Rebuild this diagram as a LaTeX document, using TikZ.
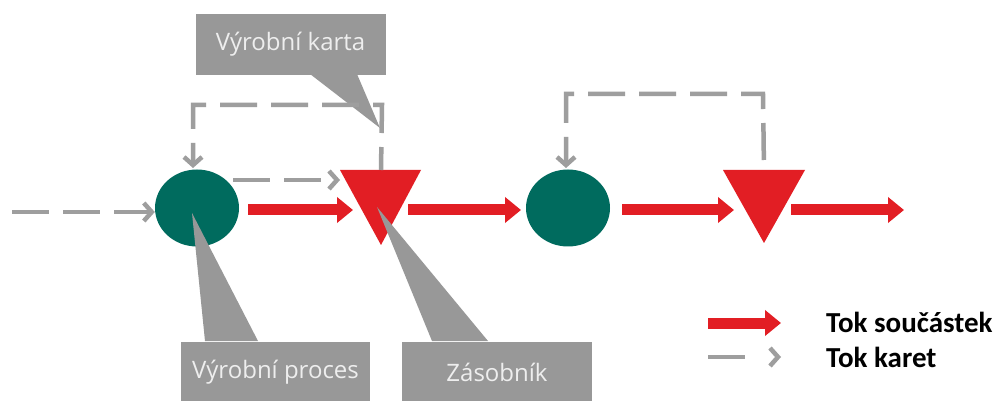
\documentclass[tikz,border=0pt]{standalone}
\usepackage{fontspec}
\newfontfamily\callfont{Open Sans}
\newfontfamily\legfont{Carlito}
\usetikzlibrary{arrows.meta,shapes.geometric}
\definecolor{teal1}{RGB}{0,107,94}
\definecolor{red1}{RGB}{226,30,36}
\definecolor{gray1}{RGB}{158,158,158}
\definecolor{gray2}{RGB}{152,152,152}
\definecolor{calltext}{RGB}{238,238,238}
\begin{document}
\begin{tikzpicture}[x=1pt,y=-1pt,
  parts/.style={red1, line width=11pt, -{Triangle[length=16pt,width=25pt]}},
  cards/.style={gray1, line width=4.5pt, dash pattern=on 37pt off 14pt,
     -{Straight Barb[length=8pt,width=18pt]}},
  callout/.style={fill=gray2, text=calltext, font=\callfont\fontsize{24}{28}\selectfont,
     inner sep=0pt, minimum width=190pt, minimum height=61pt},
  pointer/.style={fill=gray2},
  proc/.style={ellipse, fill=teal1, minimum width=84pt, minimum height=77pt, inner sep=0pt},
  stock/.style={fill=red1},
  legtext/.style={font=\legfont\bfseries\fontsize{29}{32}\selectfont, anchor=west, inner sep=0pt}]
\useasboundingbox (0,0) rectangle (997,401);
\fill[white] (0,0) rectangle (997,401);

% upper callout (behind the card loop)
\node[callout] (vk) at (290.5,44.5) {Výrobní karta};
\fill[pointer] (310,74) -- (380,128) -- (357,74) -- cycle;

% process circles
\node[proc] (p1) at (197,208) {};
\node[proc] (p2) at (568,208) {};

% stock triangles
\coordinate (s1) at (381,170);
\coordinate (s2) at (764,170);
\fill[stock] (340,170) -- (421,170) -- (381,245) -- cycle;
\fill[stock] (723,170) -- (805,170) -- (764,243) -- cycle;

% part flow
\coordinate (a1s) at (248,210); \coordinate (a1e) at (353,210);
\coordinate (a2s) at (408,210); \coordinate (a2e) at (521,210);
\coordinate (a3s) at (622,210); \coordinate (a3e) at (734,210);
\coordinate (a4s) at (791,210); \coordinate (a4e) at (904,210);
\draw[parts] (a1s) -- (a1e);
\draw[parts] (a2s) -- (a2e);
\draw[parts] (a3s) -- (a3e);
\draw[parts] (a4s) -- (a4e);

% card flow
\coordinate (in) at (12,212);
\draw[cards] (in) -- (p1.west |- in);
\coordinate (c1s) at (233,180);
\coordinate (c1e) at (340,180);
\draw[cards] (c1s) -- (c1e);
\draw[cards, dash phase=14pt] (s1) -- (382,105) -- (193,105) -- (193,168);
\draw[cards, dash phase=41pt] (s2) -- (763,94) -- (566,94) -- (566,168);

% lower callouts
\fill[pointer] (205,341) -- (192,213) -- (258,341) -- cycle;
\node[callout, minimum width=189pt] (vp) at (275.5,372) {Výrobní proces};
\fill[pointer] (432,341) -- (377,207) -- (488,341) -- cycle;
\node[callout] (zs) at (497,372) {Zásobník};

% legend
\coordinate (l1s) at (708,323); \coordinate (l1e) at (781,323);
\coordinate (l2s) at (708,357); \coordinate (l2e) at (781,357);
\draw[parts] (l1s) -- (l1e);
\draw[cards, dash pattern=on 37pt off 40pt] (l2s) -- (l2e);
\node[legtext] (lt1) at (826,322) {Tok součástek};
\node[legtext] (lt2) at (826,357) {Tok karet};
\end{tikzpicture}
\end{document}
